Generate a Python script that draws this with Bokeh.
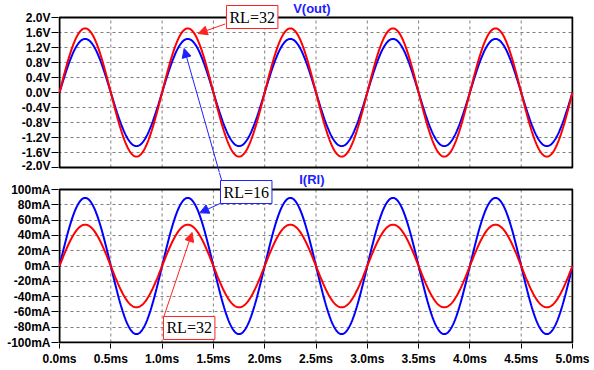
import numpy as np
from bokeh.plotting import figure
from bokeh.models import Range1d, FixedTicker, Label, Arrow, NormalHead
from bokeh.layouts import column
from bokeh.embed import file_html
from bokeh.resources import INLINE

# ---- data ----
freq_khz = 1.0                       # 5 periods in 5 ms
series_names = ["RL=16", "RL=32"]
series_colors = ["#0000FF", "#FF0000"]
vout_amp_v = [1.43, 1.71]            # peak V(out) for RL=16, RL=32
irl_amp_ma = [89.0, 54.0]            # peak I(Rl) for RL=16, RL=32

x_ticks = [0.0, 0.5, 1.0, 1.5, 2.0, 2.5, 3.0, 3.5, 4.0, 4.5, 5.0]
x_labels = ["0.0ms", "0.5ms", "1.0ms", "1.5ms", "2.0ms", "2.5ms",
            "3.0ms", "3.5ms", "4.0ms", "4.5ms", "5.0ms"]
v_ticks = [2.0, 1.6, 1.2, 0.8, 0.4, 0.0, -0.4, -0.8, -1.2, -1.6, -2.0]
v_labels = ["2.0V", "1.6V", "1.2V", "0.8V", "0.4V", "0.0V",
            "-0.4V", "-0.8V", "-1.2V", "-1.6V", "-2.0V"]
i_ticks = [100, 80, 60, 40, 20, 0, -20, -40, -60, -80, -100]
i_labels = ["100mA", "80mA", "60mA", "40mA", "20mA", "0mA",
            "-20mA", "-40mA", "-60mA", "-80mA", "-100mA"]

t = np.linspace(0.0, 5.0, 1001)

FONT = "Liberation Sans"
SERIF = "Liberation Serif"
RED = "#FF2020"
BLUE = "#2020FF"

# ---- layout (pixels) ----
W = 594
PANEL_W = 513            # plot panel width in px
PAD = 1                  # frame extends 1px beyond panel left/right
L_BORDER = 58
R_BORDER = W - L_BORDER - PANEL_W - 2 * PAD
H1 = 172                 # top figure canvas height
H2 = 197                 # bottom figure canvas height
TOP1_GAP, PANEL1_H = 17, 150      # top panel: 17px above, 150px tall
TOP2_GAP, PANEL2_H = 17, 153      # bottom panel: 17px above, 153px tall
B2 = H2 - (TOP2_GAP + PANEL2_H + PAD)

xmin, xmax = min(x_ticks), max(x_ticks)
x_per_px = (xmax - xmin) / PANEL_W
x_range = (xmin - PAD * x_per_px, xmax + PAD * x_per_px)

vmin, vmax = min(v_ticks), max(v_ticks)
v_per_px = (vmax - vmin) / PANEL1_H
v_range = (vmin - (H1 - TOP1_GAP - PANEL1_H) * v_per_px, vmax + TOP1_GAP * v_per_px)

imin, imax = min(i_ticks), max(i_ticks)
i_per_px = (imax - imin) / PANEL2_H
i_range = (imin - PAD * i_per_px, imax + TOP2_GAP * i_per_px)


def style(p, yt, yl, ylo, yhi):
    p.outline_line_color = None
    p.background_fill_color = "white"
    p.border_fill_color = "white"
    p.xgrid.visible = False
    p.ygrid.ticker = FixedTicker(ticks=yt)
    p.ygrid.grid_line_color = "#808080"
    p.ygrid.grid_line_dash = "3 3"
    p.ygrid.grid_line_width = 1
    # vertical grid lines limited to the panel
    p.segment(x0=x_ticks, y0=[ylo] * len(x_ticks), x1=x_ticks, y1=[yhi] * len(x_ticks),
              line_color="#808080", line_dash="3 3", line_width=1)
    # panel border
    p.quad(left=[xmin], right=[xmax], bottom=[ylo], top=[yhi],
           fill_color=None, line_color="black", line_width=2)
    ya = p.yaxis[0]
    ya.ticker = FixedTicker(ticks=yt)
    ya.major_label_overrides = {float(k): v for k, v in zip(yt, yl)}
    ya.axis_line_color = None
    ya.major_tick_out = 7
    ya.major_tick_in = 0
    ya.minor_tick_out = 0
    ya.minor_tick_in = 0
    ya.major_tick_line_color = "black"
    ya.major_label_standoff = 1
    ya.major_label_text_font = FONT
    ya.major_label_text_font_style = "bold"
    ya.major_label_text_font_size = "12px"
    ya.major_label_text_color = "black"


# ---------------- top panel: V(out) ----------------
p1 = figure(width=W, height=H1, output_backend="svg", toolbar_location=None,
            x_range=Range1d(*x_range), y_range=Range1d(*v_range),
            min_border_left=L_BORDER, min_border_right=R_BORDER,
            min_border_top=0, min_border_bottom=0)
p1.xaxis.visible = False
style(p1, v_ticks, v_labels, vmin, vmax)

for amp, col in zip(vout_amp_v, series_colors):
    p1.line(t, amp * np.sin(2 * np.pi * freq_khz * t), line_color=col, line_width=2)

# ---------------- bottom panel: I(Rl) ----------------
p2 = figure(width=W, height=H2, output_backend="svg", toolbar_location=None,
            x_range=Range1d(*x_range), y_range=Range1d(*i_range),
            min_border_left=L_BORDER, min_border_right=R_BORDER,
            min_border_top=0, min_border_bottom=B2)
style(p2, i_ticks, i_labels, imin, imax)
xa = p2.xaxis[0]
xa.ticker = FixedTicker(ticks=x_ticks)
xa.major_label_overrides = {float(k): v for k, v in zip(x_ticks, x_labels)}
xa.axis_line_color = None
xa.major_tick_out = 5
xa.major_tick_in = 0
xa.minor_tick_out = 0
xa.minor_tick_in = 0
xa.major_tick_line_color = "black"
xa.major_label_standoff = 3
xa.major_label_text_font = FONT
xa.major_label_text_font_style = "bold"
xa.major_label_text_font_size = "12px"
xa.major_label_text_color = "black"

for amp, col in zip(irl_amp_ma, series_colors):
    p2.line(t, amp * np.sin(2 * np.pi * freq_khz * t), line_color=col, line_width=2)

# ---------------- titles ----------------
p1.add_layout(Label(x=2.46, y=2.24, text="V(out)", text_align="center",
                    text_baseline="middle", text_font=FONT, text_font_style="bold",
                    text_font_size="13px", text_color=BLUE))
p2.add_layout(Label(x=2.46, y=113.7, text="I(Rl)", text_align="center",
                    text_baseline="middle", text_font=FONT, text_font_style="bold",
                    text_font_size="13px", text_color=BLUE))

# ---------------- annotation arrows ----------------


def head(c):
    return NormalHead(size=9, fill_color=c, line_color=c)


# top RL=32 -> red V curve
p1.add_layout(Arrow(x_start=1.615, y_start=1.827, x_end=1.352, y_end=1.573,
                    line_color=RED, line_width=1, end=head(RED)))
# RL=16 -> blue V curve (crosses both panels)
p1.add_layout(Arrow(x_start=1.586, y_start=-2.40, x_end=1.215, y_end=1.173,
                    line_color=BLUE, line_width=1, end=head(BLUE)))
p2.add_layout(Arrow(x_start=1.586, y_start=109.2, x_end=1.215, y_end=284.3,
                    line_color=BLUE, line_width=1, end=None))
# RL=16 -> blue I curve
p2.add_layout(Arrow(x_start=1.586, y_start=83.0, x_end=1.367, y_end=69.5,
                    line_color=BLUE, line_width=1, end=head(BLUE)))
# bottom RL=32 -> red I curve
p2.add_layout(Arrow(x_start=1.011, y_start=-68.6, x_end=1.293, y_end=43.8,
                    line_color=RED, line_width=1, end=head(RED)))

# ---------------- annotation boxes ----------------


def box(x, y, text, c):
    return Label(x=x, y=y, text=text, text_align="center", text_baseline="middle",
                 text_font=SERIF, text_font_size="16px", text_color="black",
                 background_fill_color="white", border_line_color=c,
                 border_line_width=1, padding=3)


p1.add_layout(box(1.878, 2.013, series_names[1], RED))
p2.add_layout(box(1.820, 96.7, series_names[0], BLUE))
p2.add_layout(box(1.264, -81.0, series_names[1], RED))

layout = column(p1, p2, spacing=0)
open("out.html", "w").write(file_html(layout, INLINE))
